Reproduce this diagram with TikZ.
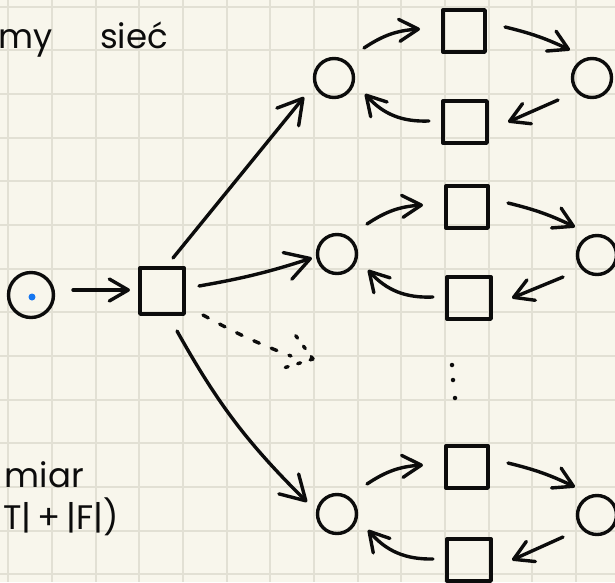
\documentclass[tikz,border=0pt]{standalone}
\usepackage{fontspec}
\setmainfont{Poppins}
\usetikzlibrary{arrows.meta,calc}
\definecolor{paper}{RGB}{248,246,236}
\definecolor{gridc}{RGB}{226,224,212}
\definecolor{ink}{RGB}{12,12,12}
\definecolor{dotblue}{RGB}{22,118,240}
\tikzset{
  x=1pt,y=-1pt,
  pen/.style={draw=ink,line width=3.4pt,line cap=round,line join=round},
  circ/.style={pen,circle,minimum size=39pt,inner sep=0pt},
  sq/.style={pen,rectangle,minimum width=42pt,minimum height=42pt,inner sep=0pt},
  arr/.style={pen,-{Straight Barb[length=19pt,width=22pt,round]}},
  bigarr/.style={pen,-{Straight Barb[length=24pt,width=28pt,round]}},
  dashline/.style={pen,dash pattern=on 6pt off 13pt},
  dotline/.style={pen,dash pattern=on 3pt off 10pt},
  hand/.style={font=\fontsize{34}{34}\selectfont,inner sep=0pt,text=ink},
  gridline/.style={draw=gridc,line width=2pt},
  bluedot/.style={circle,fill=dotblue,minimum size=7pt,inner sep=0pt},
  vdot/.style={circle,fill=ink,minimum size=4.5pt,inner sep=0pt},
}
\begin{document}
\begin{tikzpicture}
\useasboundingbox (0,0) rectangle (615,582);
\clip (0,0) rectangle (615,582);
\fill[paper] (0,0) rectangle (615,582);
% grid
\foreach \k in {0,...,14} {
  \draw[gridline] ({8.3+43.66*\k},0) -- ({8.3+43.66*\k},582);
  \draw[gridline] (0,{6.7+43.66*\k}) -- (615,{6.7+43.66*\k});
}
% texts
\node[hand,anchor=base east] (tmy) at (53,48) {my};
\node[hand,anchor=base west] (tsiec) at (100,48) {sieć};
\node[hand,anchor=base east] (tmiar) at (84,487) {miar};
\node[hand,anchor=base east] (tsize) at (119,529) {T|\,+\,|F|)};
% source
\node[pen,circle,minimum size=45pt,inner sep=0pt] (C) at (31,295) {};
\node[bluedot] (Cd) at (32,297) {};
\node[sq,minimum width=44pt,minimum height=46pt] (S) at (162,291) {};
\draw[arr] ([shift={(42,-5)}]C.center) -- ([shift={(-32,-1)}]S.center);
% cycles
\foreach \i/\lx/\ly/\tx/\ty/\rx/\ry/\bx/\by in
  {1/334/78/464/31/592/78/465/122,
   2/337/254/467/207/597/255/469/298,
   3/337/514/467/467/597/515/469/560} {
  \node[circ] (L\i) at (\lx,\ly) {};
  \node[sq] (T\i) at (\tx,\ty) {};
  \node[circ] (R\i) at (\rx,\ry) {};
  \node[sq,minimum width=44pt] (B\i) at (\bx,\by) {};
  \draw[arr] ([shift={(30,-30)}]L\i.center) to[bend left=15] ([shift={(-44,-2)}]T\i.center);
  \draw[arr] ([shift={(41,-4)}]T\i.center) to[bend left=6] ([shift={(-22,-28)}]R\i.center);
  \draw[arr] ([shift={(-34,22)}]R\i.center) -- ([shift={(43,0)}]B\i.center);
  \draw[arr] ([shift={(-36,-1)}]B\i.center) to[bend left=25] ([shift={(31,16)}]L\i.center);
}
% long arrows from S
\draw[bigarr] ([shift={(11,-33)}]S.center) -- ([shift={(-30,19)}]L1.center);
\draw[bigarr] ([shift={(37,-5)}]S.center) to[bend right=4] ([shift={(-25,4)}]L2.center);
\draw[bigarr] ([shift={(15,40)}]S.center) to[bend right=8] ([shift={(-30,-12)}]L3.center);
% dashed arrow to a free end
\coordinate (D) at (313,359);
\draw[dashline] ([shift={(41,24)}]S.center) to[bend right=4] ($(D)+(-22,-3)$);
\draw[dotline] (D) -- ++(-20,-27);
\draw[dotline] (D) -- ++(-36,11);
% vertical dots between middle and bottom cycles
\node[vdot] (v1) at (452,365) {};
\node[vdot] (v2) at (453,380) {};
\node[vdot] (v3) at (455,398) {};
\end{tikzpicture}
\end{document}
